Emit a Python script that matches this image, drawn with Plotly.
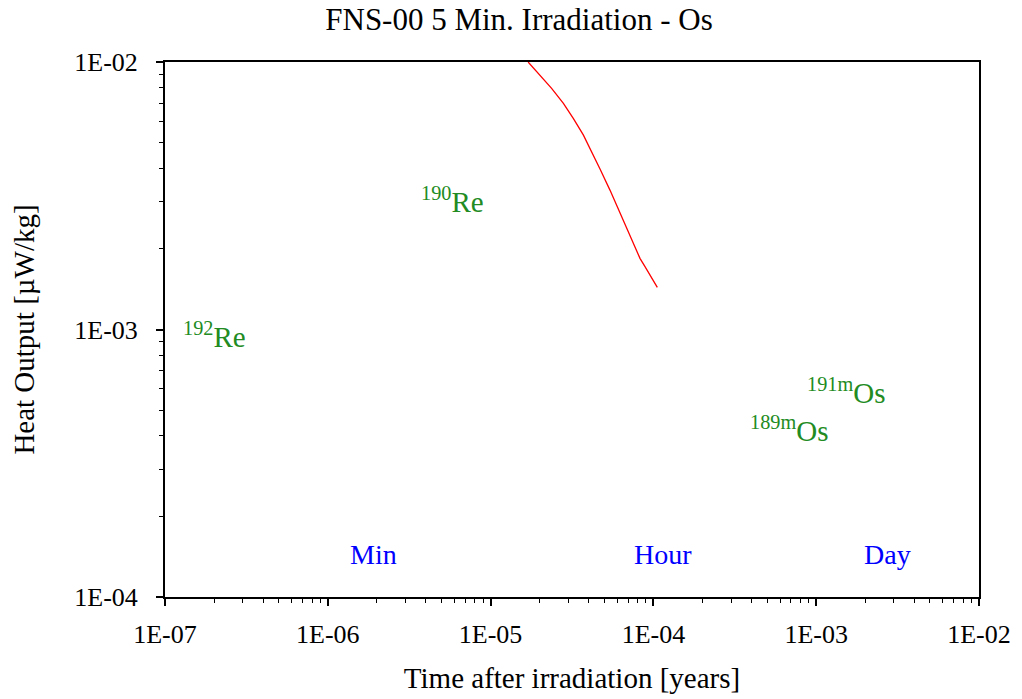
import math
import plotly.graph_objects as go

chart_name = 'fns00-os-heat'

# red curve (total heat output)
time_yr = [1.70e-5, 2.01e-5, 2.37e-5, 2.80e-5, 3.22e-5, 3.71e-5, 4.18e-5, 4.70e-5,
           5.41e-5, 6.23e-5, 7.18e-5, 8.27e-5, 8.88e-5, 1.057e-4]
heat = [1.0e-2, 8.94e-3, 7.97e-3, 7.01e-3, 6.16e-3, 5.34e-3, 4.62e-3, 3.98e-3,
        3.32e-3, 2.72e-3, 2.22e-3, 1.845e-3, 1.717e-3, 1.438e-3]

# nuclide labels
nuc_text = ['<sup>192</sup>Re', '<sup>190</sup>Re', '<sup>191m</sup>Os', '<sup>189m</sup>Os']
nuc_x = [2.0e-7, 5.87e-6, 1.52e-3, 6.81e-4]
nuc_y = [9.5e-4, 3.05e-3, 5.9e-4, 4.25e-4]

# time markers
unit_text = ['Min', 'Hour', 'Day']
unit_x = [1.9e-6, 1.14e-4, 2.74e-3]
unit_y = [1.44e-4, 1.44e-4, 1.44e-4]

xticks = [1e-7, 1e-6, 1e-5, 1e-4, 1e-3, 1e-2]
xticklabels = ['1E-07', '1E-06', '1E-05', '1E-04', '1E-03', '1E-02']
yticks = [1e-4, 1e-3, 1e-2]
yticklabels = ['1E-04', '1E-03', '1E-02']

font = 'Liberation Serif, Times New Roman, serif'


def minor_vals(decades):
    return [m * d for d in decades[:-1] for m in range(2, 10)]


fig = go.Figure()
fig.add_trace(go.Scatter(x=time_yr, y=heat, mode='lines',
                         line=dict(color='red', width=1.3),
                         showlegend=False))

# annotations on log axes take log10 positions
for t, x, y in zip(nuc_text, nuc_x, nuc_y):
    fig.add_annotation(x=math.log10(x), y=math.log10(y), xref='x', yref='y', text=t,
                       showarrow=False, font=dict(family=font, size=29, color='#228B22'))
for t, x, y in zip(unit_text, unit_x, unit_y):
    fig.add_annotation(x=math.log10(x), y=math.log10(y), xref='x', yref='y', text=t,
                       showarrow=False, font=dict(family=font, size=28, color='blue'))

axis_common = dict(
    type='log', showgrid=False, zeroline=False, automargin=False,
    showline=True, linecolor='black', linewidth=2, mirror=True,
    ticks='outside', ticklen=7, tickwidth=1.5, tickcolor='black',
    tickfont=dict(family=font, size=26, color='black'),
)

fig.update_layout(
    width=1022, height=699,
    paper_bgcolor='white', plot_bgcolor='white',
    margin=dict(l=157, r=51, t=54, b=110),
    title=dict(text='FNS-00 5 Min. Irradiation - Os', x=0.5, xanchor='center',
               y=0.999, yanchor='top',
               font=dict(family=font, size=31, color='black')),
    xaxis=dict(axis_common, range=[-7, -2], tickvals=xticks, ticktext=xticklabels,
               ticklabelstandoff=6,
               minor=dict(tickmode='array', tickvals=minor_vals(xticks), ticks='outside',
                          ticklen=4, tickwidth=1, tickcolor='black', showgrid=False),
               title=dict(text='Time after irradiation [years]', standoff=19,
                          font=dict(family=font, size=29, color='black'))),
    yaxis=dict(axis_common, range=[-4, -2], tickvals=yticks, ticktext=yticklabels,
               ticklabelstandoff=13,
               minor=dict(tickmode='array', tickvals=minor_vals(yticks), ticks='outside',
                          ticklen=4, tickwidth=1, tickcolor='black', showgrid=False),
               title=dict(text='Heat Output [µW/kg]', standoff=39,
                          font=dict(family=font, size=29, color='black'))),
)

fig.write_html('out.html')
